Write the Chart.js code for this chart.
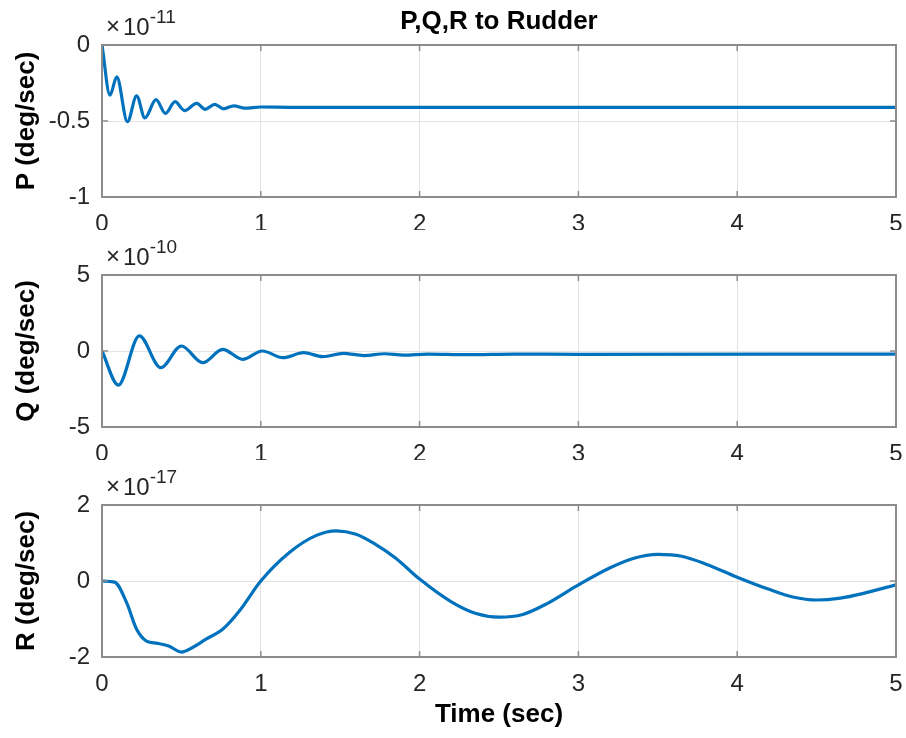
<!DOCTYPE html>
<html>
<head>
<meta charset="utf-8">
<script src="https://cdn.jsdelivr.net/npm/chart.js@4.4.1/dist/chart.umd.min.js"></script>
<style>
  html, body { margin: 0; padding: 0; background: #fff; }
  #wrap { position: relative; width: 906px; height: 738px; overflow: hidden; }
  canvas { position: absolute; left: 0; }
</style>
</head>
<body>
<div id="wrap">
  <canvas id="grafico-p" width="906" height="230" style="top:0px"></canvas>
  <canvas id="grafico-q" width="906" height="230" style="top:230px"></canvas>
  <canvas id="grafico-r" width="906" height="278" style="top:460px"></canvas>
</div>
<script>
// P (deg/sec), values in units of 1e-11
let tempoP = [0, 0.05, 0.093, 0.16, 0.218, 0.27, 0.34, 0.40, 0.46, 0.52, 0.596, 0.65, 0.71, 0.765, 0.83, 0.9, 1.0, 1.2, 5.0];
let valoresP = [0, -0.33, -0.21, -0.505, -0.335, -0.48, -0.36, -0.45, -0.373, -0.432, -0.384, -0.423, -0.39, -0.42, -0.40, -0.415, -0.408, -0.41, -0.41];

// Q (deg/sec), values in units of 1e-10
let tempoQ = [0, 0.103, 0.235, 0.37, 0.50, 0.634, 0.76, 0.886, 1.01, 1.14, 1.27, 1.39, 1.52, 1.65, 1.78, 1.9, 2.05, 2.3, 2.6, 3.0, 5.0];
let valoresQ = [0, -2.24, 0.99, -1.1, 0.33, -0.77, 0.11, -0.55, 0.0, -0.44, -0.11, -0.37, -0.15, -0.3, -0.18, -0.27, -0.2, -0.24, -0.2, -0.22, -0.2];

// R (deg/sec), values in units of 1e-17
let tempoR = [0, 0.08, 0.155, 0.218, 0.28, 0.35, 0.42, 0.50, 0.57, 0.655, 0.76, 0.865, 1.0, 1.18, 1.35, 1.475, 1.60, 1.72, 1.85, 2.0, 2.2, 2.35, 2.5, 2.65, 2.8, 3.0, 3.2, 3.35, 3.5, 3.65, 3.8, 4.0, 4.2, 4.35, 4.5, 4.65, 4.8, 5.0];
let valoresR = [0, -0.03, -0.57, -1.27, -1.58, -1.64, -1.71, -1.87, -1.75, -1.53, -1.27, -0.79, 0, 0.75, 1.2, 1.32, 1.23, 0.97, 0.6, 0.05, -0.55, -0.85, -0.95, -0.88, -0.6, -0.1, 0.35, 0.6, 0.7, 0.65, 0.45, 0.1, -0.22, -0.42, -0.5, -0.45, -0.32, -0.1];

// axis ticks: min, max, step
let ticksTempo = [0, 5, 1];
let ticksP = [-1, 0, 0.5];
let ticksQ = [-5, 5, 5];
let ticksR = [-2, 2, 2];

const fonte = '"Liberation Sans", Arial, Helvetica, sans-serif';
const corLinha = "#0072BD";
const corMoldura = "#8c8c8c";

// box around plot area + inner tick marks + exponent label
function moldura(expoente) {
    return {
        id: "moldura",
        afterDraw(chart) {
            const ctx = chart.ctx;
            const a = chart.chartArea;
            const sx = chart.scales.x, sy = chart.scales.y;
            ctx.save();
            ctx.strokeStyle = corMoldura;
            ctx.lineWidth = 2;
            ctx.strokeRect(a.left, a.top, a.right - a.left, a.bottom - a.top);
            ctx.lineWidth = 1.5;
            ctx.beginPath();
            sx.ticks.forEach(t => {
                const px = sx.getPixelForValue(t.value);
                ctx.moveTo(px, a.bottom); ctx.lineTo(px, a.bottom - 6);
                ctx.moveTo(px, a.top); ctx.lineTo(px, a.top + 6);
            });
            sy.ticks.forEach(t => {
                const py = sy.getPixelForValue(t.value);
                ctx.moveTo(a.left, py); ctx.lineTo(a.left + 6, py);
                ctx.moveTo(a.right, py); ctx.lineTo(a.right - 6, py);
            });
            ctx.stroke();
            // x10^n
            ctx.fillStyle = "#262626";
            ctx.textAlign = "left";
            ctx.textBaseline = "alphabetic";
            ctx.font = "24px " + fonte;
            ctx.fillText("\u00d7", a.left + 4, a.top - 11);
            const wx = ctx.measureText("\u00d7").width;
            ctx.fillText("10", a.left + 7 + wx, a.top - 10);
            const w10 = ctx.measureText("10").width;
            ctx.font = "19px " + fonte;
            ctx.fillText(expoente, a.left + 7 + wx + w10, a.top - 22);
            ctx.restore();
        }
    };
}

function criarGrafico(id, tempo, valores, ticksY, tituloY, expoente, opcoes) {
    const dados = {
        datasets: [{
            data: tempo.map((t, i) => ({ x: t, y: valores[i] })),
            borderColor: corLinha,
            borderWidth: 3.2,
            pointRadius: 0,
            fill: false,
            cubicInterpolationMode: "monotone",
            tension: 0.4
        }]
    };

    const config = {
        type: "line",
        data: dados,
        options: {
            responsive: false,
            animation: false,
            events: [],
            layout: { padding: { left: 0, right: 0, top: opcoes.topo, bottom: 0 } },
            plugins: {
                legend: { display: false },
                tooltip: { enabled: false },
                title: {
                    display: !!opcoes.titulo,
                    text: opcoes.titulo || "",
                    fullSize: false,
                    color: "#000",
                    font: { family: fonte, size: 26, weight: "bold", lineHeight: 1.0 },
                    padding: { top: 9, bottom: 10 }
                }
            },
            scales: {
                x: {
                    type: "linear",
                    min: ticksTempo[0],
                    max: ticksTempo[1],
                    // fixed axis height and right margin so the plot box ends at x=896
                    afterFit: s => { s.height = opcoes.alturaX; s.paddingRight = 10; },
                    ticks: {
                        stepSize: ticksTempo[2],
                        color: "#262626",
                        padding: 13,
                        maxRotation: 0,
                        font: { family: fonte, size: 24 }
                    },
                    grid: { color: "#e3e3e3", lineWidth: 1, drawTicks: false },
                    border: { display: false },
                    title: {
                        display: !!opcoes.tituloX,
                        text: opcoes.tituloX || "",
                        color: "#000",
                        font: { family: fonte, size: 26, weight: "bold", lineHeight: 1.2 },
                        padding: { top: 0, bottom: 8 }
                    }
                },
                y: {
                    min: ticksY[0],
                    max: ticksY[1],
                    afterFit: s => { s.width = 102; },
                    ticks: {
                        stepSize: ticksY[2],
                        color: "#262626",
                        padding: 12,
                        font: { family: fonte, size: 24 },
                        callback: v => String(v)
                    },
                    grid: { color: "#e3e3e3", lineWidth: 1, drawTicks: false },
                    border: { display: false },
                    title: {
                        display: true,
                        text: tituloY,
                        color: "#000",
                        font: { family: fonte, size: 26, weight: "bold", lineHeight: 1.2 },
                        padding: { top: 11, bottom: 0 }
                    }
                }
            }
        },
        plugins: [moldura(expoente)]
    };

    return new Chart(document.getElementById(id), config);
}

// P
let graficoP = criarGrafico("grafico-p", tempoP, valoresP, ticksP, "P (deg/sec)", "-11",
    { titulo: "P,Q,R to Rudder", topo: 0, alturaX: 33 });

// Q
let graficoQ = criarGrafico("grafico-q", tempoQ, valoresQ, ticksQ, "Q (deg/sec)", "-10",
    { topo: 45, alturaX: 33 });

// R
let graficoR = criarGrafico("grafico-r", tempoR, valoresR, ticksR, "R (deg/sec)", "-17",
    { topo: 45, alturaX: 81, tituloX: "Time (sec)" });
</script>
</body>
</html>
